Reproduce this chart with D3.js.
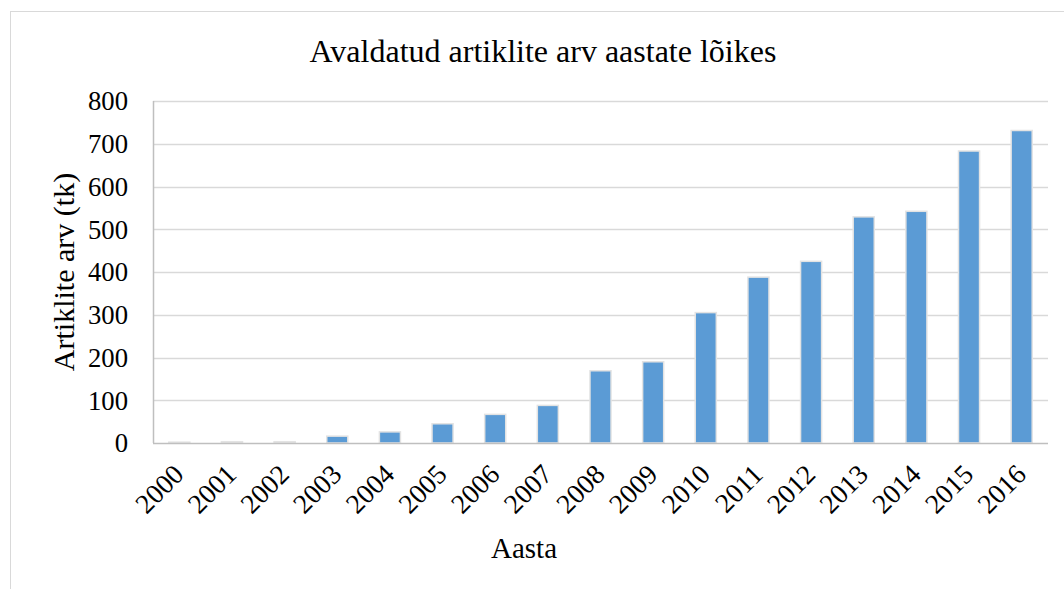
<!DOCTYPE html>
<html>
<head>
<meta charset="utf-8">
<script src="https://cdn.jsdelivr.net/npm/d3@7"></script>
<style>
  body { margin: 0; background: #fff; }
  text { font-family: "Liberation Serif", "Times New Roman", serif; fill: #000; }
</style>
</head>
<body>
<div id="chart"></div>
<script>
const years = ["2000", "2001", "2002", "2003", "2004", "2005", "2006", "2007", "2008",
  "2009", "2010", "2011", "2012", "2013", "2014", "2015", "2016"];
const articles = [2, 3, 3, 16, 26, 45, 67, 88, 169, 190, 305, 388, 425, 529, 542, 683, 731];
const yTicks = [0, 100, 200, 300, 400, 500, 600, 700, 800];

const width = 1064, height = 589;
const margin = { top: 101, right: 16, bottom: 146, left: 153 };

const svg = d3.select("#chart").append("svg")
  .attr("width", width)
  .attr("height", height);

// chart frame
svg.append("rect")
  .attr("x", 10.5).attr("y", 11.5)
  .attr("width", 1100).attr("height", 640)
  .attr("fill", "none")
  .attr("stroke", "#d9d9d9");

const x = d3.scaleBand()
  .domain(years)
  .range([margin.left, width - margin.right])
  .paddingInner(0.6)
  .paddingOuter(0.3);

const y = d3.scaleLinear()
  .domain([0, 800])
  .range([height - margin.bottom, margin.top]);

// gridlines
svg.append("g")
  .selectAll("line")
  .data(yTicks.slice(1))
  .join("line")
  .attr("x1", margin.left).attr("x2", width - margin.right)
  .attr("y1", d => Math.round(y(d)) + 0.5)
  .attr("y2", d => Math.round(y(d)) + 0.5)
  .attr("stroke", "#d9d9d9")
  .attr("stroke-width", 1.5);

// left axis line
svg.append("line")
  .attr("x1", margin.left + 0.5).attr("x2", margin.left + 0.5)
  .attr("y1", y(800)).attr("y2", y(0))
  .attr("stroke", "#bfbfbf")
  .attr("stroke-width", 1.5);

// bars
svg.append("g")
  .selectAll("rect")
  .data(articles)
  .join("rect")
  .attr("x", (d, i) => x(years[i]))
  .attr("y", d => y(d))
  .attr("width", x.bandwidth())
  .attr("height", d => y(0) - y(d))
  .attr("fill", "#5b9bd5")
  .attr("stroke", "#e3e3e3")
  .attr("stroke-width", 1.5);

// bottom axis line
svg.append("line")
  .attr("x1", margin.left).attr("x2", width - margin.right)
  .attr("y1", y(0) + 0.5).attr("y2", y(0) + 0.5)
  .attr("stroke", "#bfbfbf")
  .attr("stroke-width", 1.5);

// y tick labels
svg.append("g")
  .selectAll("text")
  .data(yTicks)
  .join("text")
  .attr("x", 128)
  .attr("y", d => y(d))
  .attr("dy", "0.35em")
  .attr("text-anchor", "end")
  .attr("font-size", 26.7)
  .text(d => d);

// x tick labels
svg.append("g")
  .selectAll("text")
  .data(years)
  .join("text")
  .attr("transform", d => `translate(${x(d) + x.bandwidth() / 2 + 6},${y(0) + 33}) rotate(-45)`)
  .attr("text-anchor", "end")
  .attr("font-size", 27.5)
  .text(d => d);

// title
svg.append("text")
  .attr("x", 543).attr("y", 62)
  .attr("text-anchor", "middle")
  .attr("font-size", 32)
  .text("Avaldatud artiklite arv aastate lõikes");

// axis titles
svg.append("text")
  .attr("transform", `translate(74,${(y(0) + y(800)) / 2}) rotate(-90)`)
  .attr("text-anchor", "middle")
  .attr("font-size", 30)
  .text("Artiklite arv (tk)");

svg.append("text")
  .attr("x", 524).attr("y", 558)
  .attr("text-anchor", "middle")
  .attr("font-size", 29)
  .text("Aasta");
</script>
</body>
</html>
